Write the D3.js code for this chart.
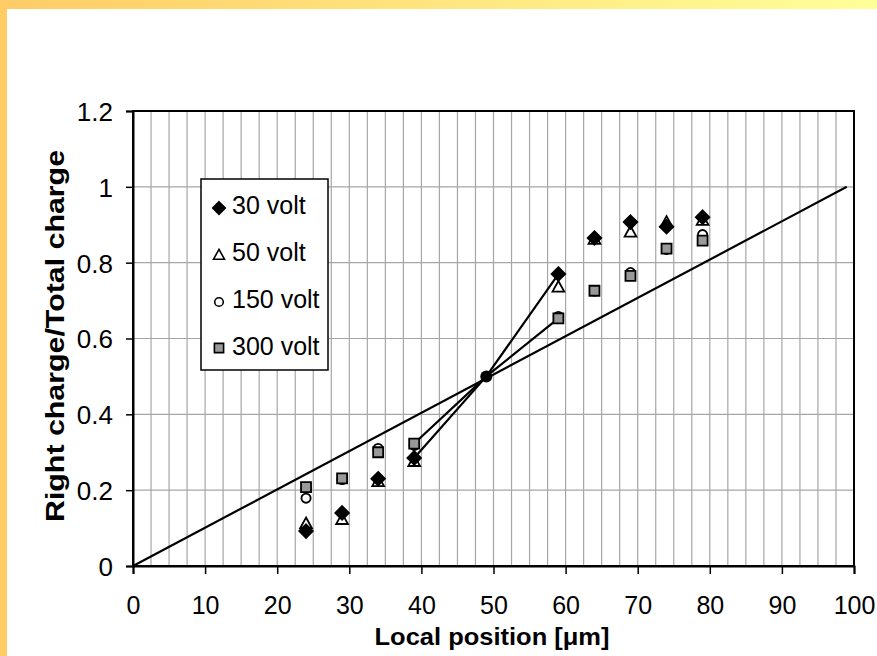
<!DOCTYPE html>
<html><head><meta charset="utf-8">
<script src="https://cdn.jsdelivr.net/npm/d3@7"></script>
<style>body{margin:0;background:#fff}svg{display:block}</style>
</head><body>
<script>
const xPos = [24, 29, 34, 39, 59, 64, 69, 74, 79];
const v30  = [0.092, 0.14, 0.23, 0.285, 0.77, 0.865, 0.907, 0.895, 0.92];
const v50  = [0.113, 0.124, 0.224, 0.277, 0.737, 0.863, 0.882, 0.908, 0.913];
const v150 = [0.179, 0.228, 0.31, 0.318, 0.658, 0.725, 0.774, 0.835, 0.874];
const v300 = [0.208, 0.231, 0.30, 0.323, 0.653, 0.726, 0.765, 0.837, 0.858];
const centerPoint = [49, 0.5];
const refLine = [[0, 0], [99, 1]];
const line30 = [[39, 0.285], [49, 0.5], [59, 0.77]];
const line300 = [[39, 0.323], [49, 0.5], [59, 0.653]];
const xTicks = [0,10,20,30,40,50,60,70,80,90,100];
const yTicks = [0,0.2,0.4,0.6,0.8,1,1.2];
const legendLabels = ["30 volt","50 volt","150 volt","300 volt"];

const W = 877, H = 656;
const svg = d3.select("body").append("svg").attr("width", W).attr("height", H);
const defs = svg.append("defs");
const grad = defs.append("linearGradient").attr("id","g").attr("x1","0").attr("x2","1");
grad.append("stop").attr("offset","0").attr("stop-color","#FFCC66");
grad.append("stop").attr("offset","1").attr("stop-color","#FFFF99");
svg.append("rect").attr("x",0).attr("y",0).attr("width",W).attr("height",9).attr("fill","url(#g)");
svg.append("rect").attr("x",0).attr("y",0).attr("width",7).attr("height",H).attr("fill","#FFCC66");

const L = 133, R = 854, T = 111, B = 566;
const x = d3.scaleLinear().domain([0,100]).range([L,R]);
const y = d3.scaleLinear().domain([0,1.2]).range([B,T]);
const font = "Liberation Sans, Arial, sans-serif";

// grid
const g = svg.append("g");
g.selectAll(".vg").data(d3.range(2.5, 100, 2.5)).enter().append("line")
  .attr("x1", d=>x(d)).attr("x2", d=>x(d)).attr("y1", T).attr("y2", B)
  .attr("stroke", "#a6a6a6").attr("stroke-width", 1.2);
g.selectAll(".hg").data(yTicks.slice(1,-1)).enter().append("line")
  .attr("x1", L).attr("x2", R).attr("y1", d=>y(d)).attr("y2", d=>y(d))
  .attr("stroke", "#a6a6a6").attr("stroke-width", 1.2);
svg.append("rect").attr("x",L).attr("y",T).attr("width",R-L).attr("height",B-T)
  .attr("fill","none").attr("stroke","#000").attr("stroke-width",2);

// axes
const xa = svg.append("g").attr("transform",`translate(0,${B})`)
  .call(d3.axisBottom(x).tickValues(xTicks).tickSize(8).tickPadding(12).tickFormat(d3.format("d")));
const ya = svg.append("g").attr("transform",`translate(${L},0)`)
  .call(d3.axisLeft(y).tickValues(yTicks).tickSize(7).tickPadding(13).tickFormat(d=>d3.format("~g")(d)));
[xa, ya].forEach(a=>{
  a.select(".domain").attr("stroke","#000").attr("stroke-width",2);
  a.selectAll(".tick line").attr("stroke","#000").attr("stroke-width",1.5);
  a.selectAll("text").attr("font-family",font).attr("fill","#000");
});
xa.selectAll("text").attr("font-size",25).attr("dy",null).attr("y",48);
ya.selectAll("text").attr("font-size",26).attr("dy","0.36em");

// axis titles
svg.append("text").attr("x", 492).attr("y", 645).attr("text-anchor","middle")
  .attr("font-family",font).attr("font-weight","bold").attr("font-size",24)
  .attr("textLength",235).attr("lengthAdjust","spacingAndGlyphs").text("Local position [μm]");
svg.append("text").attr("transform","translate(64,336) rotate(-90)").attr("text-anchor","middle")
  .attr("font-family",font).attr("font-weight","bold").attr("font-size",25)
  .attr("textLength",372).attr("lengthAdjust","spacingAndGlyphs").text("Right charge/Total charge");

// lines
const lg = d3.line().x(d=>x(d[0])).y(d=>y(d[1]));
[refLine, line30, line300].forEach(d=>{
  svg.append("path").attr("d", lg(d)).attr("fill","none").attr("stroke","#000").attr("stroke-width",2.2);
});
svg.append("circle").attr("cx", x(centerPoint[0])).attr("cy", y(centerPoint[1])).attr("r",6).attr("fill","#000");

// markers
const shapes = {
  diamond: s => `M0,${-s}L${s},0L0,${s}L${-s},0Z`,
  triangle: s => `M0,${-s}L${s*1.05},${s*0.9}L${-s*1.05},${s*0.9}Z`,
  circle: s => `M${s},0A${s},${s} 0 1,1 ${-s},0A${s},${s} 0 1,1 ${s},0Z`,
  square: s => `M${-s},${-s}H${s}V${s}H${-s}Z`
};
const styles = [
  {p: shapes.diamond, size: 6.8, lsize: 6.3, fill:"#000"},
  {p: shapes.triangle, size: 5.6, lsize: 5.2, fill:"#fff"},
  {p: shapes.circle, size: 4.6, lsize: 4.3, fill:"#fff"},
  {p: shapes.square, size: 5, lsize: 4.6, fill:"#999"}
];
const series = [v30, v50, v150, v300];
[2,3,1,0].forEach(i=>{
  const st = styles[i];
  svg.append("g").selectAll("path").data(series[i].map((v,j)=>[xPos[j], v])).enter().append("path")
    .attr("d", st.p(st.size)).attr("transform", d=>`translate(${x(d[0])},${y(d[1])})`)
    .attr("fill", st.fill).attr("stroke", "#000").attr("stroke-width",1.8);
});

// legend
const leg = svg.append("g");
leg.append("rect").attr("x",201).attr("y",179).attr("width",127).attr("height",191)
  .attr("fill","#fff").attr("stroke","#000").attr("stroke-width",1.5);
const legMarkY = [208, 254.5, 302, 348];
const legTextY = [214, 261, 308, 355];
legendLabels.forEach((t,i)=>{
  leg.append("path").attr("d", styles[i].p(styles[i].lsize)).attr("transform",`translate(219,${legMarkY[i]})`)
    .attr("fill", styles[i].fill).attr("stroke", "#000").attr("stroke-width",1.6);
  leg.append("text").attr("x",232).attr("y",legTextY[i]).attr("font-family",font).attr("font-size",25).text(t);
});
</script>
</body></html>
